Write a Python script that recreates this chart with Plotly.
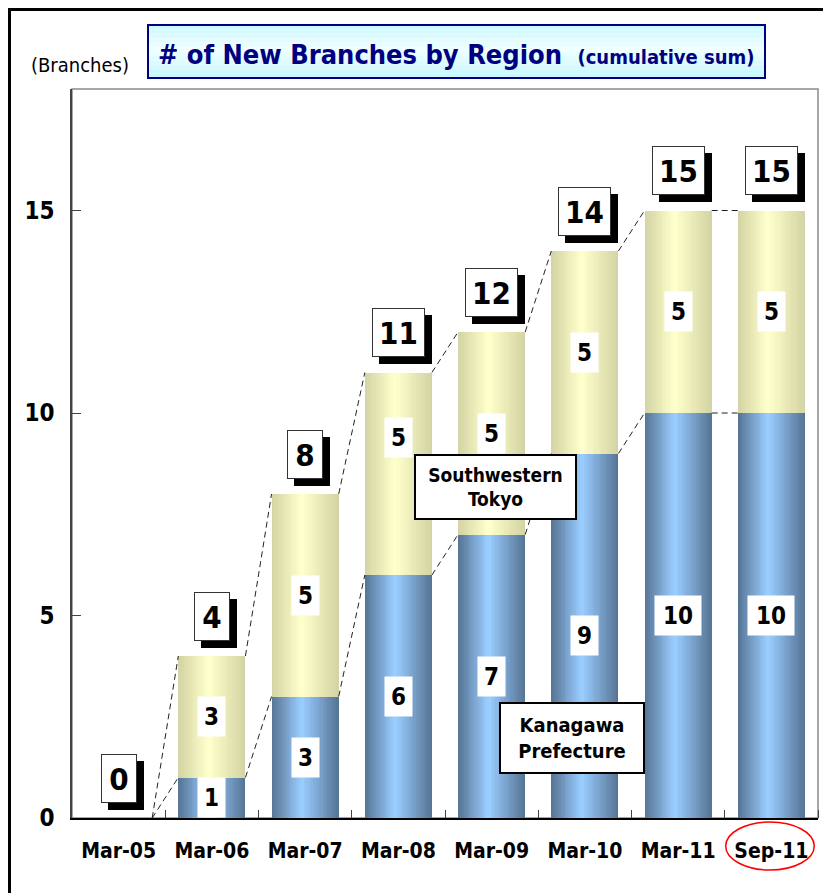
import plotly.graph_objects as go

categories = ["Mar-05", "Mar-06", "Mar-07", "Mar-08", "Mar-09", "Mar-10", "Mar-11", "Sep-11"]
kanagawa = [0, 1, 3, 6, 7, 9, 10, 10]
sw_tokyo = [0, 3, 5, 5, 5, 5, 5, 5]
totals = [k + t for k, t in zip(kanagawa, sw_tokyo)]
y_ticks = [0, 5, 10, 15]

FONT = "DejaVu Sans Condensed, Liberation Sans Narrow, DejaVu Sans, sans-serif"
BAR_W = 0.72
N_LAYERS = 16
PEAK = 0.45

x_idx = list(range(len(categories)))

# plot area in page pixels (page has an 8px body margin)
PL, PR, PT, PB = 72, 818, 89, 818


def px(x):
    return (x - PL) / (PR - PL)


def py(y):
    return (PB - y) / (PB - PT)


def mix(c1, c2, t):
    return "rgb(%d,%d,%d)" % tuple(round(a + (b - a) * t) for a, b in zip(c1, c2))


fig = go.Figure()


def gradient_bars(values, base, edge, peak, name):
    for k in range(N_LAYERS):
        f = k / N_LAYERS
        left = -BAR_W / 2 + f * BAR_W * PEAK
        right = BAR_W / 2 - f * BAR_W * (1 - PEAK)
        t = k / (N_LAYERS - 1)
        fig.add_trace(go.Bar(
            x=x_idx, y=values, base=base, width=right - left, offset=left,
            marker=dict(color=mix(edge, peak, t), line=dict(width=0)),
            name=name, showlegend=False, hoverinfo="skip"))


gradient_bars(kanagawa, [0] * len(kanagawa), (88, 118, 150), (153, 204, 255), "Kanagawa Prefecture")
gradient_bars(sw_tokyo, kanagawa, (212, 212, 164), (255, 255, 204), "Southwestern Tokyo")

# series lines (dashed connectors)
for series in (totals, kanagawa):
    xs, ys = [], []
    for i in range(len(series) - 1):
        xs += [i + BAR_W / 2, i + 1 - BAR_W / 2, None]
        ys += [series[i], series[i + 1], None]
    fig.add_trace(go.Scatter(x=xs, y=ys, mode="lines",
                             line=dict(color="#222222", width=1, dash="6px,4px"),
                             showlegend=False, hoverinfo="skip"))

ann = []
# segment labels
tokyo_shift = [0, 0, 0, 36, 0, 0, 0, 0]
for i in x_idx:
    if kanagawa[i]:
        s = str(kanagawa[i])
        ann.append(dict(x=i, y=kanagawa[i] / 2, text="<b>%s</b>" % s, showarrow=False,
                        bgcolor="white", width=6 + 19 * len(s), height=37,
                        font=dict(size=24, color="black", family=FONT)))
    if sw_tokyo[i]:
        s = str(sw_tokyo[i])
        ann.append(dict(x=i, y=kanagawa[i] + sw_tokyo[i] / 2, yshift=tokyo_shift[i],
                        text="<b>%s</b>" % s, showarrow=False,
                        bgcolor="white", width=6 + 19 * len(s), height=37,
                        font=dict(size=24, color="black", family=FONT)))
# total labels with drop shadow
for i in x_idx:
    s = str(totals[i])
    w = 15 + 17 * len(s)
    ann.append(dict(x=i, y=totals[i], yshift=40 - 7, xshift=7, text=" ",
                    showarrow=False, bgcolor="black", bordercolor="black", borderwidth=1,
                    width=w, height=45, font=dict(size=31, color="black", family=FONT)))
    ann.append(dict(x=i, y=totals[i], yshift=40, text="<b>%s</b>" % s,
                    showarrow=False, bgcolor="white", bordercolor="#333333", borderwidth=1,
                    width=w, height=45, font=dict(size=31, color="black", family=FONT)))

# series name boxes
ann.append(dict(x=4.04, y=8.17, text="<b>Southwestern<br>Tokyo</b>", showarrow=False,
                bgcolor="white", bordercolor="black", borderwidth=2, width=157, height=60,
                font=dict(size=19, color="black", family=FONT)))
ann.append(dict(x=4.86, y=1.97, text="<b>Kanagawa<br>Prefecture</b>", showarrow=False,
                bgcolor="white", bordercolor="black", borderwidth=2, width=140, height=66,
                font=dict(size=20, color="black", family=FONT)))

# title & unit
ann.append(dict(xref="paper", yref="paper", x=px(456), y=py(55), xanchor="center", yanchor="middle",
                text="<b># of New Branches by Region</b>  <span style='font-size:20px'><b>(cumulative sum)</b></span>",
                showarrow=False, font=dict(size=27, color="#000080", family=FONT)))
ann.append(dict(xref="paper", yref="paper", x=px(80), y=py(65),
                xanchor="center", yanchor="middle", text="(Branches)", showarrow=False,
                font=dict(size=20, color="black", family=FONT)))

shapes = []
# outer frame
shapes.append(dict(type="rect", xref="paper", yref="paper",
                   x0=px(9.5), x1=px(845), y0=py(905), y1=py(9.5),
                   line=dict(color="black", width=3), fillcolor="rgba(0,0,0,0)", layer="below"))
# plot area border
shapes.append(dict(type="rect", xref="paper", yref="paper", x0=0, x1=1, y0=0, y1=1,
                   line=dict(color="#8a8a8a", width=1.5), layer="below"))
# title box with soft vertical gradient
ty0, ty1, tx0, tx1 = 25, 78, 148, 765
bands = 12
for b in range(bands):
    t = abs((b + 0.5) / bands - 0.45) / 0.55
    ya = ty0 + (ty1 - ty0) * b / bands
    yb = ty0 + (ty1 - ty0) * (b + 1) / bands
    shapes.append(dict(type="rect", xref="paper", yref="paper",
                       x0=px(tx0), x1=px(tx1), y0=py(yb), y1=py(ya),
                       line=dict(width=0), fillcolor=mix((240, 255, 255), (196, 246, 255), t)))
shapes.append(dict(type="rect", xref="paper", yref="paper",
                   x0=px(tx0), x1=px(tx1), y0=py(ty1), y1=py(ty0),
                   line=dict(color="#000080", width=2)))
# red ellipse around Sep-11
shapes.append(dict(type="circle", xref="x", yref="paper", x0=6.51, x1=7.46,
                   y0=py(870), y1=py(822),
                   line=dict(color="#ff0000", width=1.5)))

fig.update_layout(
    width=823, height=885,
    margin=dict(l=PL - 8, r=831 - PR, t=PT - 8, b=893 - PB),
    paper_bgcolor="white", plot_bgcolor="white",
    barmode="overlay", bargap=0,
    showlegend=False,
    annotations=ann, shapes=shapes,
    xaxis=dict(range=[-0.5, 7.5], tickvals=x_idx, ticktext=["<b>%s</b>" % c for c in categories],
               ticks="", showgrid=False, zeroline=False, showline=True, linecolor="black", linewidth=1.5,
               tickfont=dict(size=21, color="black", family=FONT), ticklabelstandoff=13,
               minor=dict(tickvals=[i + 0.5 for i in x_idx], ticks="inside", ticklen=8,
                          tickcolor="#444444", showgrid=False),
               fixedrange=True),
    yaxis=dict(range=[0, 18], tickvals=y_ticks, ticktext=["<b>%d</b>" % v for v in y_ticks],
               ticks="inside", ticklen=9, tickcolor="#444444",
               showgrid=False, zeroline=False, showline=True, linecolor="#444444", linewidth=1.5,
               tickfont=dict(size=24, color="black", family=FONT), ticklabelstandoff=11,
               fixedrange=True),
)

fig.write_html("out.html")
